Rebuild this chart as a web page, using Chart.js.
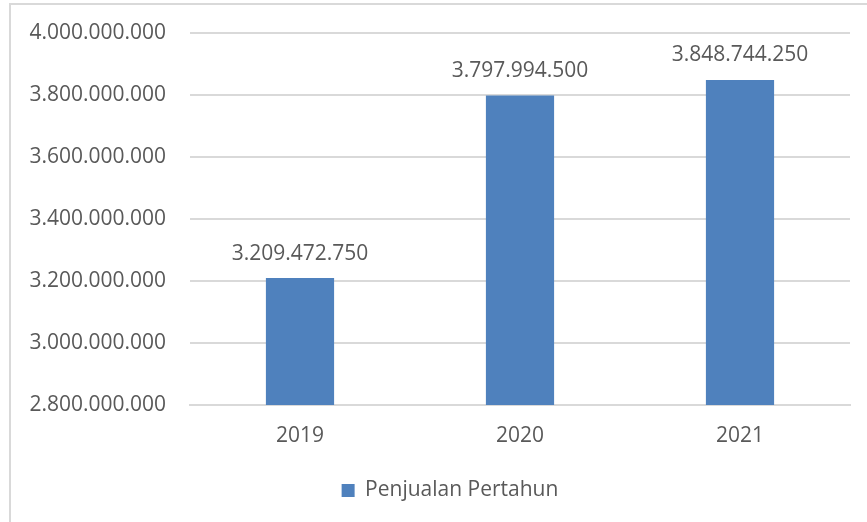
<!DOCTYPE html>
<html>
<head>
<meta charset="utf-8">
<script src="https://cdn.jsdelivr.net/npm/chart.js@4"></script>
<style>
  html, body { margin: 0; padding: 0; background: #fff; }
  #wrap { position: relative; width: 867px; height: 522px; overflow: hidden; }
  #frame { position: absolute; left: 9px; top: 3px; width: 900px; height: 600px;
           border-left: 2px solid #d9d9d9; border-top: 2px solid #d9d9d9; box-sizing: border-box; }
  canvas { position: absolute; left: 0; top: 0; }
</style>
</head>
<body>
<div id="wrap">
  <div id="frame"></div>
  <canvas id="salesChart" width="867" height="522"></canvas>
</div>
<script>
const years = ['2019', '2020', '2021'];
const penjualan = [3209472750, 3797994500, 3848744250];
const seriesName = 'Penjualan Pertahun';
const yMin = 2800000000;
const yMax = 4000000000;
const yStep = 200000000;

const fmt = v => Math.round(v).toString().replace(/\B(?=(\d{3})+(?!\d))/g, '.');
const textColor = '#595959';
const fontFamily = '"Open Sans", "Noto Sans", sans-serif';
const fontSize = 21;

// draws value labels above each bar
const barLabels = {
  id: 'barLabels',
  afterDatasetsDraw(chart) {
    const ctx = chart.ctx;
    const meta = chart.getDatasetMeta(0);
    ctx.save();
    ctx.font = fontSize + 'px ' + fontFamily;
    ctx.fillStyle = textColor;
    ctx.textAlign = 'center';
    ctx.textBaseline = 'bottom';
    meta.data.forEach((bar, i) => {
      ctx.fillText(fmt(penjualan[i]), bar.x, bar.y - 14);
    });
    ctx.restore();
  }
};

// legend sits centred under the framed area, a bit right of the canvas centre
const legendShift = {
  id: 'legendShift',
  afterLayout(chart) {
    chart.legend.left += 25;
    chart.legend.right += 25;
  }
};

new Chart(document.getElementById('salesChart'), {
  type: 'bar',
  data: {
    labels: years,
    datasets: [{
      label: seriesName,
      data: penjualan,
      backgroundColor: '#4f81bd',
      borderColor: '#4f81bd',
      borderWidth: 0,
      categoryPercentage: 1,
      barPercentage: 0.31
    }]
  },
  options: {
    responsive: false,
    animation: false,
    layout: { padding: { top: 33, right: 17, left: 0, bottom: 11 } },
    scales: {
      y: {
        min: yMin,
        max: yMax,
        ticks: {
          stepSize: yStep,
          color: textColor,
          font: { size: fontSize, family: fontFamily },
          padding: 24,
          callback: v => fmt(v)
        },
        grid: { color: '#d9d9d9', lineWidth: 2, drawTicks: false },
        border: { display: false },
        afterFit: s => { s.width = 190; s.paddingTop = 0; s.paddingBottom = 0; }
      },
      x: {
        ticks: {
          color: textColor,
          font: { size: fontSize, family: fontFamily },
          padding: 18
        },
        grid: { display: false, drawTicks: false },
        border: { color: '#d9d9d9', width: 2 },
        afterFit: s => { s.height = 48; }
      }
    },
    plugins: {
      legend: {
        position: 'bottom',
        labels: {
          color: textColor,
          font: { size: fontSize, family: fontFamily },
          boxWidth: 13,
          boxHeight: 13,
          padding: 27
        }
      },
      tooltip: { enabled: false }
    }
  },
  plugins: [barLabels, legendShift]
});
</script>
</body>
</html>
